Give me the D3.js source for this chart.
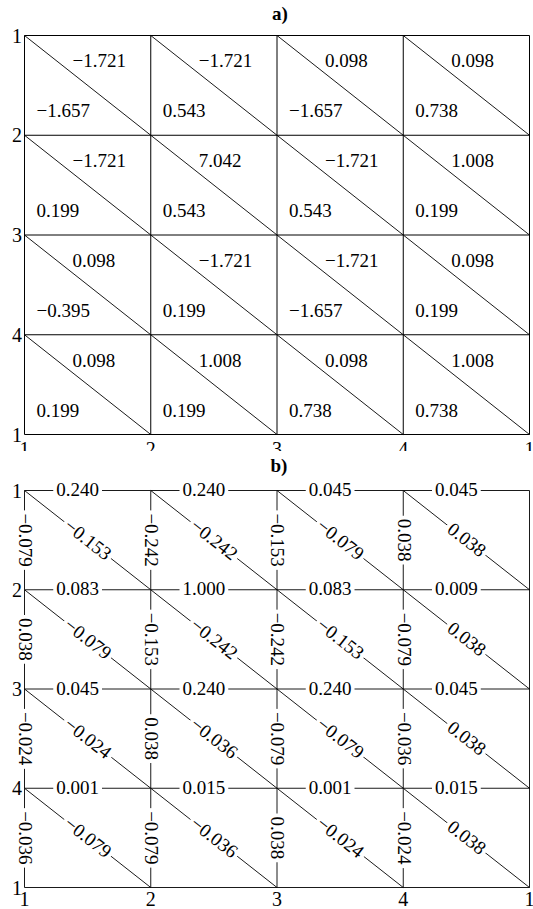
<!DOCTYPE html>
<html>
<head>
<meta charset="utf-8">
<script src="https://cdn.jsdelivr.net/npm/d3@7"></script>
<style>
body { margin: 0; background: #fff; }
</style>
</head>
<body>
<div id="chart"></div>
<script>
// node labels on both axes (periodic grid, so it ends with 1 again)
var nodeLabels = ["1", "2", "3", "4", "1"];

// panel a: value in the upper-right and lower-left triangle of each cell
var upperA = [
  [-1.721, -1.721, 0.098, 0.098],
  [-1.721, 7.042, -1.721, 1.008],
  [0.098, -1.721, -1.721, 0.098],
  [0.098, 1.008, 0.098, 1.008]
];
var lowerA = [
  [-1.657, 0.543, -1.657, 0.738],
  [0.199, 0.543, 0.543, 0.199],
  [-0.395, 0.199, -1.657, 0.199],
  [0.199, 0.199, 0.738, 0.738]
];

// panel b: edge weights (horizontal, vertical, diagonal), row by row
var horizB = [
  [0.240, 0.240, 0.045, 0.045],
  [0.083, 1.000, 0.083, 0.009],
  [0.045, 0.240, 0.240, 0.045],
  [0.001, 0.015, 0.001, 0.015]
];
var vertB = [
  [-0.079, -0.242, -0.153, 0.038],
  [0.038, -0.153, -0.242, -0.079],
  [-0.024, 0.038, -0.079, -0.036],
  [-0.036, -0.079, 0.038, -0.024]
];
var diagB = [
  [-0.153, -0.242, -0.079, 0.038],
  [-0.079, -0.242, -0.153, 0.038],
  [-0.024, -0.036, -0.079, 0.038],
  [-0.079, -0.036, -0.024, 0.038]
];

var fmt = d3.format(".3f");
var font = "'Liberation Serif', 'Times New Roman', serif";

//Make an SVG Container
var svg = d3.select("#chart").append("svg")
    .attr("width", 533)
    .attr("height", 909)
    .style("font-family", font);

var x = d3.scaleLinear().domain([0, 4]).range([24.5, 529.5]);
var ya = d3.scaleLinear().domain([0, 4]).range([35.5, 434.5]);
var yb = d3.scaleLinear().domain([0, 4]).range([490.5, 887.5]);
var idx = d3.range(5);

// ---------- panel a ----------
var ga = svg.append("g");

ga.append("text")
    .attr("x", 280)
    .attr("y", 20)
    .attr("text-anchor", "middle")
    .attr("font-size", 19)
    .attr("font-weight", "bold")
    .text("a)");

// x labels of panel a (their lower half is hidden by panel b)
ga.selectAll(".xlab")
    .data(idx)
    .enter().append("text")
    .attr("x", function(d) { return x(d); })
    .attr("y", 456)
    .attr("text-anchor", "middle")
    .attr("font-size", 20)
    .text(function(d) { return nodeLabels[d]; });

ga.selectAll(".ylab")
    .data(idx)
    .enter().append("text")
    .attr("x", 22)
    .attr("y", function(d) { return ya(d); })
    .attr("dy", "0.35em")
    .attr("text-anchor", "end")
    .attr("font-size", 20)
    .text(function(d) { return nodeLabels[d]; });

ga.selectAll(".hline")
    .data(idx)
    .enter().append("line")
    .attr("x1", x(0)).attr("x2", x(4))
    .attr("y1", function(d) { return ya(d); })
    .attr("y2", function(d) { return ya(d); })
    .attr("stroke", "black");

ga.selectAll(".vline")
    .data(idx)
    .enter().append("line")
    .attr("y1", ya(0)).attr("y2", ya(4))
    .attr("x1", function(d) { return x(d); })
    .attr("x2", function(d) { return x(d); })
    .attr("stroke", "black");

var cellsA = [];
upperA.forEach(function(row, r) {
  row.forEach(function(v, c) {
    cellsA.push({ r: r, c: c, up: v, low: lowerA[r][c] });
  });
});

ga.selectAll(".diag")
    .data(cellsA)
    .enter().append("line")
    .attr("x1", function(d) { return x(d.c); })
    .attr("y1", function(d) { return ya(d.r); })
    .attr("x2", function(d) { return x(d.c + 1); })
    .attr("y2", function(d) { return ya(d.r + 1); })
    .attr("stroke", "black")
    .attr("stroke-width", 0.9);

ga.selectAll(".up")
    .data(cellsA)
    .enter().append("text")
    .attr("x", function(d) { return x(d.c + 0.38); })
    .attr("y", function(d) { return ya(d.r + 0.32); })
    .attr("font-size", 19)
    .text(function(d) { return fmt(d.up); });

ga.selectAll(".low")
    .data(cellsA)
    .enter().append("text")
    .attr("x", function(d) { return x(d.c + 0.095); })
    .attr("y", function(d) { return ya(d.r + 0.82); })
    .attr("font-size", 19)
    .text(function(d) { return fmt(d.low); });

// ---------- panel b ----------
var gb = svg.append("g");

gb.append("rect")
    .attr("x", 0)
    .attr("y", 451)
    .attr("width", 533)
    .attr("height", 458)
    .attr("fill", "white");

gb.append("text")
    .attr("x", 279)
    .attr("y", 472)
    .attr("text-anchor", "middle")
    .attr("font-size", 19)
    .attr("font-weight", "bold")
    .text("b)");

gb.selectAll(".xlab")
    .data(idx)
    .enter().append("text")
    .attr("x", function(d) { return x(d); })
    .attr("y", 906)
    .attr("text-anchor", "middle")
    .attr("font-size", 20)
    .text(function(d) { return nodeLabels[d]; });

gb.selectAll(".ylab")
    .data(idx)
    .enter().append("text")
    .attr("x", 22)
    .attr("y", function(d) { return yb(d); })
    .attr("dy", "0.35em")
    .attr("text-anchor", "end")
    .attr("font-size", 20)
    .text(function(d) { return nodeLabels[d]; });

var edges = [];
for (var r = 0; r < 4; r++) {
  for (var c = 0; c < 4; c++) {
    edges.push({ c1: c, r1: r, c2: c + 1, r2: r, v: horizB[r][c], shift: -10 });
    edges.push({ c1: c, r1: r, c2: c, r2: r + 1, v: vertB[r][c], shift: 0 });
    edges.push({ c1: c, r1: r, c2: c + 1, r2: r + 1, v: diagB[r][c], shift: 0 });
  }
}
// closing border lines without weights
var border = [
  { c1: 0, r1: 4, c2: 4, r2: 4 },
  { c1: 4, r1: 0, c2: 4, r2: 4 }
];

gb.selectAll(".edge")
    .data(edges.concat(border))
    .enter().append("line")
    .attr("x1", function(d) { return x(d.c1); })
    .attr("y1", function(d) { return yb(d.r1); })
    .attr("x2", function(d) { return x(d.c2); })
    .attr("y2", function(d) { return yb(d.r2); })
    .attr("stroke", "black")
    .attr("stroke-width", 0.9);

var labels = gb.selectAll(".lab")
    .data(edges)
    .enter().append("g")
    .attr("transform", function(d) {
      var x1 = x(d.c1), y1 = yb(d.r1), x2 = x(d.c2), y2 = yb(d.r2);
      var a = Math.atan2(y2 - y1, x2 - x1) * 180 / Math.PI;
      return "translate(" + ((x1 + x2) / 2) + "," + ((y1 + y2) / 2) + ") rotate(" + a + ")";
    });

labels.append("text")
    .attr("x", function(d) { return d.shift; })
    .attr("dy", "0.3em")
    .attr("text-anchor", "middle")
    .attr("font-size", 19)
    .text(function(d) { return fmt(d.v); });

// white box behind each weight to cut the line
labels.each(function() {
  var g = d3.select(this);
  var b = g.select("text").node().getBBox();
  g.insert("rect", "text")
    .attr("x", b.x - 3)
    .attr("y", -4)
    .attr("width", b.width + 6)
    .attr("height", 8)
    .attr("fill", "white");
});
</script>
</body>
</html>
